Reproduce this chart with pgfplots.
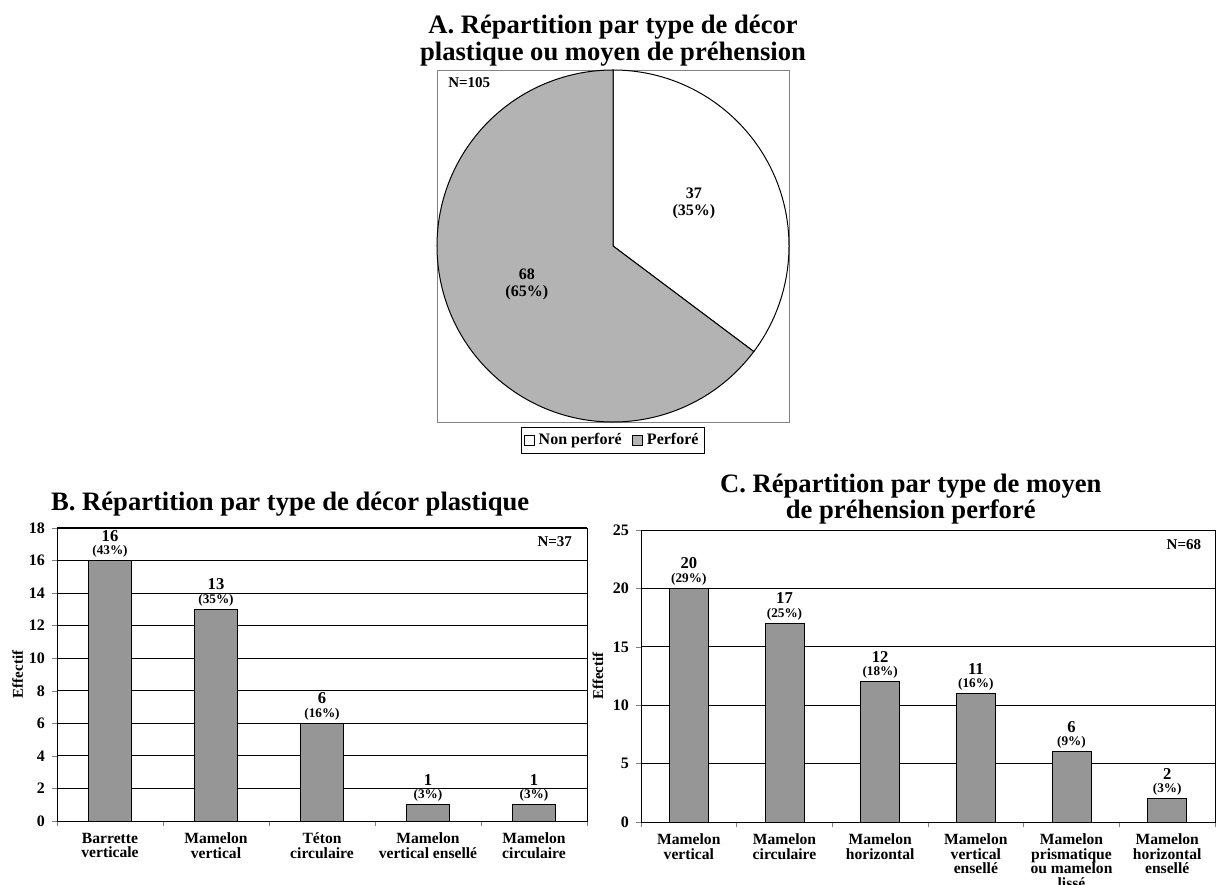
\documentclass[border=0pt]{standalone}
\usepackage{fontspec}
\setmainfont{Liberation Serif}
\usepackage{pgfplots}
\usepackage{pgfplotstable}
\pgfplotsset{compat=1.18}

\definecolor{barfill}{RGB}{150,150,150}
\definecolor{piegray}{RGB}{179,179,179}
\definecolor{framegray}{RGB}{130,130,130}

% counts for the pie (A)
\def\nonperf{37}
\def\perf{68}

% B: decor plastique
\pgfplotstableread{
x y pct
0 16 43
1 13 35
2 6 16
3 1 3
4 1 3
}\tabB

% C: moyen de prehension perfore
\pgfplotstableread{
x y pct
0 20 29
1 17 25
2 12 18
3 11 16
4 6 9
5 2 3
}\tabC

\pgfplotsset{
  barchart/.style={
    scale only axis,
    ybar, ymin=0,
    axis line style={black},
    tick align=outside,
    tick pos=left,
    major tick length=2.5pt,
    minor tick length=2.5pt,
    major x tick style={draw=none},
    ymajorgrids,
    grid style={black, line width=0.5pt},
    /pgf/number format/assume math mode=true,
    yticklabel style={font=\fontsize{8}{8}\selectfont\bfseries},
    xticklabel style={align=center, font=\fontsize{7.8}{7.2}\selectfont\bfseries},
    ylabel=Effectif,
    ylabel style={font=\fontsize{7.5}{7.5}\selectfont\bfseries, anchor=center},
    title style={font=\fontsize{13.3}{13.5}\selectfont\bfseries, align=center, anchor=center},
    point meta=explicit,
    nodes near coords={{\fontsize{8.3}{6.6}\selectfont\pgfmathprintnumber{\pgfkeysvalueof{/data point/y}}}\\{\fontsize{6.6}{6.6}\selectfont(\pgfmathprintnumber{\pgfplotspointmeta}\%)}},
    every node near coord/.append style={align=center, inner sep=1.5pt,
      font=\fontsize{8.3}{6.6}\selectfont\bfseries,
      /pgf/number format/assume math mode=true},
  },
}

\begin{document}
\begin{tikzpicture}
\useasboundingbox (0,0) rectangle (610pt,442pt);

% ---------- A: pie ----------
\pgfmathsetmacro{\angA}{360*\nonperf/(\nonperf+\perf)}
\begin{axis}[
  at={(218.5pt,231pt)}, anchor=south west,
  scale only axis, width=176pt, height=176pt,
  xmin=-1, xmax=1, ymin=-1, ymax=1,
  xtick=\empty, ytick=\empty,
  axis line style={framegray},
  clip=false,
  title={A. Répartition par type de décor\\plastique ou moyen de préhension},
  title style={font=\fontsize{13.3}{13.5}\selectfont\bfseries, align=center,
    at={(axis description cs:0.5,1)}, anchor=center, yshift=8.5pt},
  legend style={at={(axis description cs:0.5,0)}, anchor=north, yshift=-2.5pt,
    legend columns=2, draw=black, inner sep=1pt,
    font=\fontsize{8}{8}\selectfont\bfseries,
    /tikz/every even column/.append style={column sep=3pt}},
]
\addlegendimage{legend image code/.code={\draw[fill=white,draw=black,line width=0.4pt] (0pt,-2.6pt) rectangle (5.2pt,2.6pt);}}
\addlegendentry{Non perforé}
\addlegendimage{legend image code/.code={\draw[fill=piegray,draw=black,line width=0.4pt] (0pt,-2.6pt) rectangle (5.2pt,2.6pt);}}
\addlegendentry{Perforé}
\filldraw[fill=white, draw=black, line width=0.5pt]
  (axis cs:0,0) -- ++(90:88pt) arc[start angle=90, end angle={90-\angA}, radius=88pt] -- cycle;
\filldraw[fill=piegray, draw=black, line width=0.5pt]
  (axis cs:0,0) -- ++({90-\angA}:88pt) arc[start angle={90-\angA}, end angle=-270, radius=88pt] -- cycle;
\node[align=center, font=\fontsize{8}{8.6}\selectfont\bfseries] at (axis cs:0.46,0.24) {\nonperf\\(35\%)};
\node[align=center, font=\fontsize{8}{8.6}\selectfont\bfseries] at (axis cs:-0.49,-0.22) {\perf\\(65\%)};
\node[anchor=west, font=\fontsize{7.5}{7.5}\selectfont\bfseries] at (axis description cs:0.012,0.963) {N=105};
\end{axis}

% ---------- B: bars ----------
\begin{axis}[
  barchart,
  at={(28.5pt,31.5pt)}, anchor=south west,
  width=265pt, height=146.5pt,
  ymax=18, ytick={0,2,...,18},
  xmin=-0.5, xmax=4.5,
  xtick={0,...,4},
  minor xtick={-0.5,0.5,...,4.5},
  xticklabels={{Barrette\\verticale},{Mamelon\\vertical},{Téton\\circulaire},{Mamelon\\vertical ensellé},{Mamelon\\circulaire}},
  bar width=21.5pt,
  ylabel style={at={(axis description cs:-0.074,0.5)}},
  title={B. Répartition par type de décor plastique},
  title style={at={(axis description cs:0.44,1)}, yshift=6pt},
]
\addplot[fill=barfill, draw=black, line width=0.5pt] table[x=x, y=y, meta=pct] {\tabB};
\node[anchor=east, font=\fontsize{7.5}{7.5}\selectfont\bfseries] at (axis description cs:0.985,0.955) {N=37};
\end{axis}

% ---------- C: bars ----------
\begin{axis}[
  barchart,
  at={(320.5pt,31pt)}, anchor=south west,
  width=287pt, height=146pt,
  ymax=25, ytick={0,5,...,25},
  xmin=-0.5, xmax=5.5,
  xtick={0,...,5},
  minor xtick={-0.5,0.5,...,5.5},
  xticklabels={{Mamelon\\vertical},{Mamelon\\circulaire},{Mamelon\\horizontal},{Mamelon\\vertical\\ensellé},{Mamelon\\prismatique\\ou mamelon\\lissé},{Mamelon\\horizontal\\ensellé}},
  bar width=19.5pt,
  ylabel style={at={(axis description cs:-0.075,0.5)}},
  title={C. Répartition par type de moyen\\[-0.6pt]de préhension perforé},
  title style={at={(axis description cs:0.47,1)}, yshift=9.5pt},
]
\addplot[fill=barfill, draw=black, line width=0.5pt] table[x=x, y=y, meta=pct] {\tabC};
\node[anchor=east, font=\fontsize{7.5}{7.5}\selectfont\bfseries] at (axis description cs:0.988,0.95) {N=68};
\end{axis}
\end{tikzpicture}
\end{document}
